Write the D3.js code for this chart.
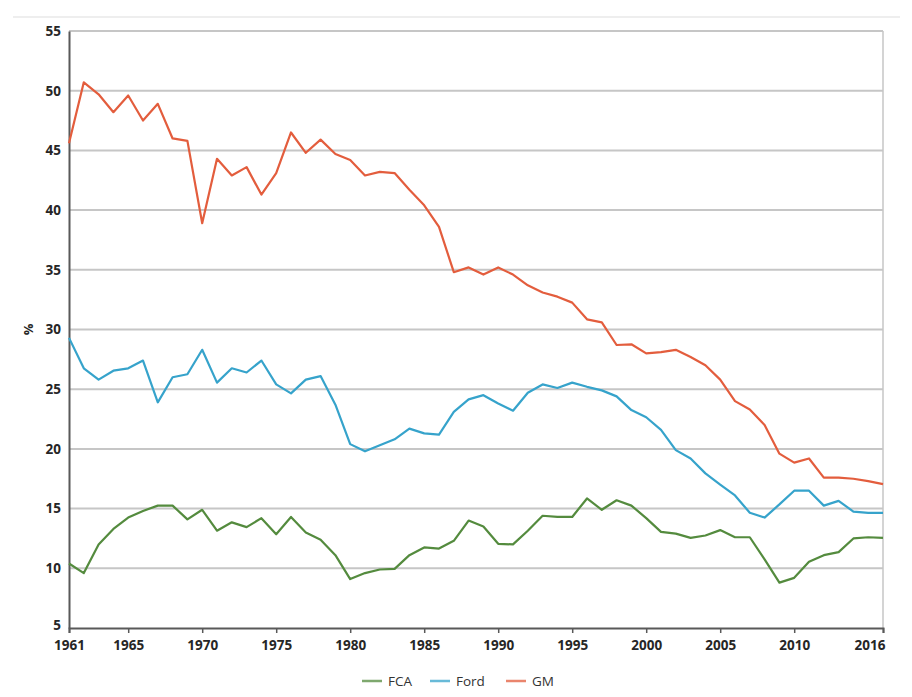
<!DOCTYPE html>
<html>
<head>
<meta charset="utf-8">
<script src="https://cdn.jsdelivr.net/npm/d3@7"></script>
<style>
  html, body { margin: 0; padding: 0; background: #fff; }
  svg { display: block; font-family: "Open Sans", "Noto Sans", sans-serif; }
</style>
</head>
<body>
<svg id="chart" width="912" height="697"></svg>
<script>
const years = d3.range(1961, 2017);
const seriesNames = ["FCA", "Ford", "GM"];
const seriesColors = ["#548b3e", "#36a3cb", "#e35d3d"];
const xTickYears = [1961, 1965, 1970, 1975, 1980, 1985, 1990, 1995, 2000, 2005, 2010, 2016];
const yTicks = [5, 10, 15, 20, 25, 30, 35, 40, 45, 50, 55];

const fca = [10.4, 9.6, 12.0, 13.3, 14.25, 14.8, 15.25, 15.25, 14.1, 14.9,
  13.15, 13.85, 13.45, 14.2, 12.85, 14.3, 13.0, 12.4, 11.1, 9.1,
  9.6, 9.9, 9.95, 11.1, 11.75, 11.65, 12.3, 14.0, 13.5, 12.05,
  12.0, 13.15, 14.4, 14.3, 14.3, 15.85, 14.9, 15.7, 15.25, 14.2,
  13.05, 12.9, 12.55, 12.75, 13.2, 12.6, 12.6, 10.75, 8.8, 9.2,
  10.55, 11.1, 11.35, 12.5, 12.6, 12.55];
const ford = [29.3, 26.75, 25.8, 26.55, 26.75, 27.4, 23.9, 26.0, 26.25, 28.3,
  25.55, 26.75, 26.4, 27.4, 25.4, 24.65, 25.8, 26.1, 23.7, 20.4,
  19.8, 20.3, 20.8, 21.7, 21.3, 21.2, 23.1, 24.15, 24.5, 23.8,
  23.2, 24.7, 25.4, 25.1, 25.55, 25.2, 24.9, 24.4, 23.25, 22.65,
  21.6, 19.9, 19.2, 17.95, 17.0, 16.1, 14.65, 14.25, 15.35, 16.5,
  16.5, 15.25, 15.65, 14.75, 14.65, 14.65];
const gm = [45.6, 50.7, 49.7, 48.2, 49.6, 47.5, 48.9, 46.0, 45.8, 38.9,
  44.3, 42.9, 43.6, 41.3, 43.1, 46.5, 44.8, 45.9, 44.7, 44.2,
  42.9, 43.2, 43.1, 41.7, 40.4, 38.6, 34.8, 35.2, 34.6, 35.2,
  34.6, 33.7, 33.1, 32.75, 32.25, 30.85, 30.6, 28.7, 28.76, 28.0,
  28.1, 28.3, 27.7, 27.0, 25.8, 24.0, 23.3, 22.0, 19.6, 18.85,
  19.2, 17.6, 17.6, 17.5, 17.3, 17.05];
const seriesValues = [fca, ford, gm];

const svg = d3.select("#chart");
const margin = {left: 69, right: 29, top: 31, bottom: 69};
const W = 912, H = 697;
const x = d3.scaleLinear().domain([1961, 2016]).range([margin.left, W - margin.right]);
const y = d3.scaleLinear().domain([5, 55]).range([H - margin.bottom, margin.top]);

// top separator line
svg.append("line").attr("x1", 13).attr("x2", 900).attr("y1", 17).attr("y2", 17)
  .attr("stroke", "#e9e9e9").attr("stroke-width", 1.5);

// gridlines
svg.append("g").selectAll("line").data(yTicks.filter(t => t > 5)).join("line")
  .attr("x1", margin.left).attr("x2", W - margin.right)
  .attr("y1", d => y(d)).attr("y2", d => y(d))
  .attr("stroke", "#c6c6c6").attr("stroke-width", 2);

// right border
svg.append("line").attr("x1", W - margin.right).attr("x2", W - margin.right)
  .attr("y1", y(55)).attr("y2", y(5)).attr("stroke", "#c6c6c6").attr("stroke-width", 1.5);

// y axis
const yAxis = svg.append("g").attr("transform", `translate(${margin.left},0)`)
  .call(d3.axisLeft(y).tickValues(yTicks).tickSize(0).tickPadding(8));
yAxis.select(".domain").attr("stroke", "#595959").attr("stroke-width", 2);
yAxis.selectAll("text").attr("font-size", 13.5).attr("font-weight", "bold").attr("fill", "#262626")
  .attr("font-family", "'Open Sans', sans-serif")
  .attr("dy", d => d === 5 ? "0.1em" : "0.32em");

// x axis
const xAxis = svg.append("g").attr("transform", `translate(0,${H - margin.bottom})`)
  .call(d3.axisBottom(x).tickValues(xTickYears).tickFormat(d3.format("d")).tickSize(5).tickPadding(7));
xAxis.select(".domain").attr("stroke", "#595959").attr("stroke-width", 2);
xAxis.selectAll(".tick line").attr("stroke", "#595959").attr("stroke-width", 1.5);
xAxis.selectAll("text").attr("font-size", 13.5).attr("font-weight", "bold").attr("fill", "#262626")
  .attr("font-family", "'Open Sans', sans-serif")
  .attr("text-anchor", d => d === 2016 ? "end" : "middle")
  .attr("dx", d => d === 2016 ? 2 : 0);

// y label
svg.append("text").attr("transform", `translate(33,${(y(30))}) rotate(-90)`)
  .attr("text-anchor", "middle").attr("font-size", 13).attr("font-weight", "bold")
  .attr("fill", "#262626").text("%");

// lines
const line = d3.line().x((d, i) => x(years[i])).y(d => y(d));
svg.append("g").selectAll("path").data(seriesValues).join("path")
  .attr("d", d => line(d)).attr("fill", "none")
  .attr("stroke", (d, i) => seriesColors[i]).attr("stroke-width", 2.2)
  .attr("stroke-linejoin", "round");

// legend
const legendX = [362, 430, 506];
const lg = svg.append("g");
seriesNames.forEach((name, i) => {
  lg.append("line").attr("x1", legendX[i]).attr("x2", legendX[i] + 20)
    .attr("y1", 681).attr("y2", 681).attr("stroke", seriesColors[i])
    .attr("stroke-width", 2.5).attr("opacity", 0.75);
  lg.append("text").attr("x", legendX[i] + 26).attr("y", 686)
    .attr("font-size", 13.5).attr("fill", "#333").text(name);
});
</script>
</body>
</html>
